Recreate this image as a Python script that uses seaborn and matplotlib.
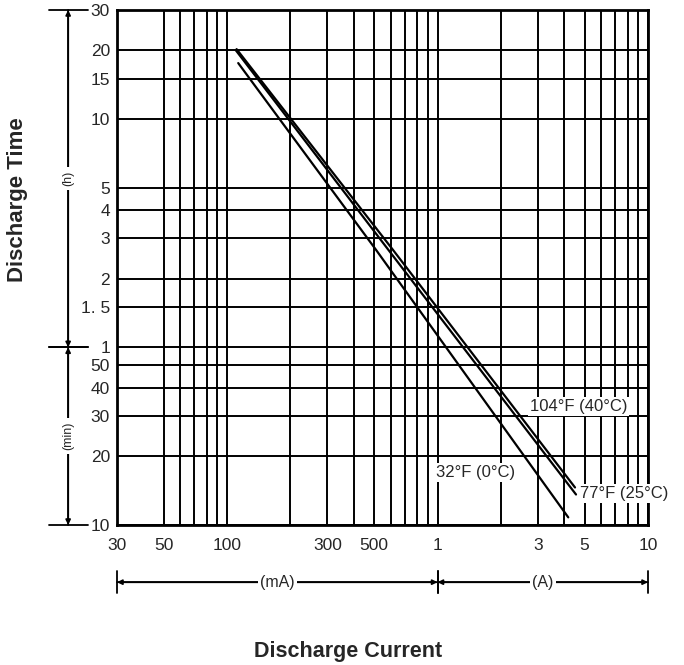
import matplotlib
matplotlib.use('Agg')
import matplotlib.pyplot as plt
import matplotlib.transforms as mtransforms
from matplotlib.ticker import FixedLocator, NullFormatter, NullLocator
import numpy as np
import pandas as pd
import seaborn as sns

# Discharge curves (current in mA, time in minutes)
current_104f = [111, 615, 4500]
time_104f = [1213, 160, 14.6]
current_77f = [110, 585, 4550]
time_77f = [1200, 160, 13.6]
current_32f = [113, 511, 4180]
time_32f = [1054, 160, 10.8]

series_names = ['104F', '77F', '32F']
series_labels = ['104\u00b0F (40\u00b0C)', '77\u00b0F (25\u00b0C)', '32\u00b0F (0\u00b0C)']
label_pos_current = [2750, 4750, 985]
label_pos_time = [33, 13.8, 16.9]

# Axis ticks / grid
x_ticks = [30, 50, 100, 300, 500, 1000, 3000, 5000, 10000]
x_tick_labels = ['30', '50', '100', '300', '500', '1', '3', '5', '10']
x_minor_grid = [60, 70, 80, 90, 200, 400, 600, 700, 800, 900,
                2000, 4000, 6000, 7000, 8000, 9000]
y_ticks = [1800, 1200, 900, 600, 300, 240, 180, 120, 90, 60, 50, 40, 30, 20, 10]
y_tick_labels = ['30', '20', '15', '10', '5', '4', '3', '2', '1. 5', '1',
                 '50', '40', '30', '20', '10']

sns.set_style('white')
plt.rcParams['font.family'] = ['Liberation Sans', 'DejaVu Sans']
narrow = ['Liberation Sans Narrow', 'Liberation Sans', 'DejaVu Sans']

df = pd.concat([
    pd.DataFrame({'current_mA': current_104f, 'time_min': time_104f, 'temp': '104F'}),
    pd.DataFrame({'current_mA': current_77f, 'time_min': time_77f, 'temp': '77F'}),
    pd.DataFrame({'current_mA': current_32f, 'time_min': time_32f, 'temp': '32F'}),
], ignore_index=True)

W, H = 684, 665
fig = plt.figure(figsize=(W / 100, H / 100), dpi=100)
ax = fig.add_axes([117 / W, 1 - 525 / H, 531 / W, 515 / H])
ax.set_xscale('log')
ax.set_yscale('log')

sns.lineplot(data=df, x='current_mA', y='time_min', hue='temp',
             hue_order=series_names, palette=['black'] * 3, legend=False,
             estimator=None, sort=False, lw=1.6, ax=ax, zorder=3)

ax.set_xlim(30, 10000)
ax.set_ylim(10, 1800)
ax.set_xlabel('')
ax.set_ylabel('')

ax.xaxis.set_major_locator(FixedLocator(x_ticks))
ax.xaxis.set_minor_locator(FixedLocator(x_minor_grid))
ax.xaxis.set_minor_formatter(NullFormatter())
ax.set_xticklabels(x_tick_labels)
ax.yaxis.set_major_locator(FixedLocator(y_ticks))
ax.yaxis.set_minor_locator(NullLocator())
ax.set_yticklabels(y_tick_labels)

ax.grid(which='both', color='black', lw=1.4)
ax.set_axisbelow(True)
ax.tick_params(which='both', length=0)
ax.tick_params(axis='x', pad=9)
ax.tick_params(axis='y', pad=5)
for lbl in ax.get_xticklabels() + ax.get_yticklabels():
    lbl.set_family(narrow)
    lbl.set_fontsize(12.5)
for s in ax.spines.values():
    s.set_visible(True)
    s.set_color('black')
    s.set_linewidth(2)

# curve labels
for lab, xc, yc in zip(series_labels, label_pos_current, label_pos_time):
    ax.text(xc, yc, lab, ha='left', va='center', fontsize=12, family=narrow,
            bbox=dict(facecolor='white', edgecolor='none', pad=1.5),
            clip_on=False, zorder=4)

# unit bracket lines below x axis
bx = mtransforms.blended_transform_factory(ax.transData, ax.transAxes)
yf = -0.111
for x0, x1, lab in [(30, 1000, '(mA)'), (1000, 10000, '(A)')]:
    for style in ['|-|,widthA=1.1,widthB=1.1', '<|-|>']:
        ax.annotate('', xy=(x1, yf), xytext=(x0, yf), xycoords=bx,
                    arrowprops=dict(arrowstyle=style, color='black', lw=1.3,
                                    shrinkA=0, shrinkB=0, mutation_scale=7),
                    annotation_clip=False)
    ax.text(np.sqrt(x0 * x1), yf, lab, transform=bx, ha='center', va='center',
            fontsize=11.5, family=narrow, clip_on=False,
            bbox=dict(facecolor='white', edgecolor='none', pad=1.5))

# unit bracket lines left of y axis
by = mtransforms.blended_transform_factory(ax.transAxes, ax.transData)
xf = -0.092
for y0, y1, lab in [(1800, 60, '(h)'), (60, 10, '(min)')]:
    for style in ['|-|,widthA=2.0,widthB=2.0', '<|-|>']:
        ax.annotate('', xy=(xf, y1), xytext=(xf, y0), xycoords=by,
                    arrowprops=dict(arrowstyle=style, color='black', lw=1.3,
                                    shrinkA=0, shrinkB=0, mutation_scale=7),
                    annotation_clip=False)
    ax.text(xf, np.sqrt(y0 * y1), lab, transform=by, ha='center', va='center',
            rotation=90, fontsize=9, family=narrow, clip_on=False,
            bbox=dict(facecolor='white', edgecolor='none', pad=3))

fig.text(18 / W, 1 - 200 / H, 'Discharge Time', rotation=90, ha='center',
         va='center', fontsize=16, weight='bold')
fig.text(348 / W, 1 - 652 / H, 'Discharge Current', ha='center',
         va='center', fontsize=15.5, weight='bold')

fig.savefig('out.png', dpi=100)
